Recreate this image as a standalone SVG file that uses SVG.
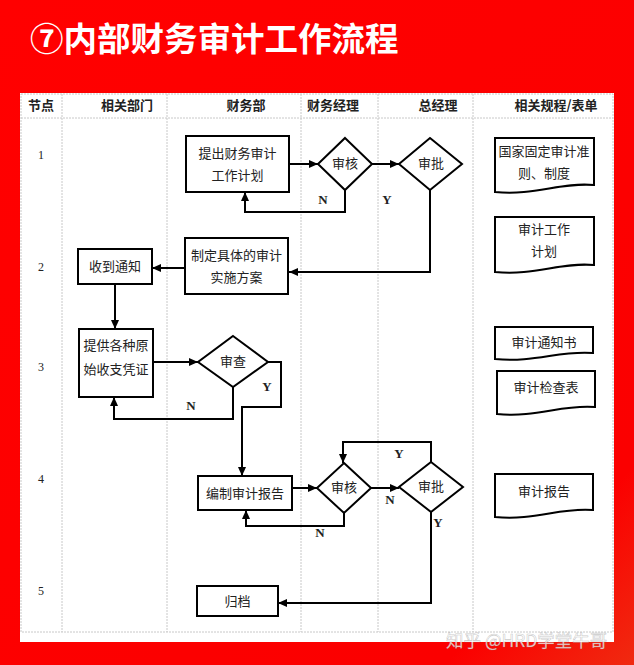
<svg xmlns="http://www.w3.org/2000/svg" width="634" height="665" viewBox="0 0 634 665">
<defs>
<linearGradient id="bg" x1="0" y1="0" x2="1" y2="1">
<stop offset="0" stop-color="#ff0000"/>
<stop offset="0.85" stop-color="#fb0000"/>
<stop offset="1" stop-color="#f02a10"/>
</linearGradient>
<marker id="ah" markerUnits="userSpaceOnUse" markerWidth="10" markerHeight="8" refX="9" refY="4" orient="auto">
<path d="M0,0 L9,4 L0,8 Z" fill="#000"/>
</marker>
<style>
.grid{stroke:#c8c8c8;stroke-width:1;stroke-dasharray:2 1;fill:none}
.hd{font-family:"Noto Sans CJK SC",sans-serif;font-weight:700;font-size:13px;fill:#222;text-anchor:middle}
.num{font-family:"Liberation Serif",serif;font-size:12px;fill:#222;text-anchor:middle}
.box{fill:#fff;stroke:#000;stroke-width:2}
.t{font-family:"Noto Sans CJK SC",sans-serif;font-size:13px;fill:#222;text-anchor:middle}
.lbl{font-family:"Liberation Serif",serif;font-weight:700;font-size:13px;fill:#222;text-anchor:middle}
.c{fill:none;stroke:#000;stroke-width:2;marker-end:url(#ah)}
</style>
</defs>
<rect width="634" height="665" fill="url(#bg)"/>
<text x="30" y="51" font-family="'Noto Sans CJK SC',sans-serif" font-weight="700" font-size="33.5" fill="#fff">⑦内部财务审计工作流程</text>
<rect x="20" y="93" width="594" height="549" fill="#fff"/>

<g id="grid">
<rect x="21" y="94" width="592" height="538" class="grid"/>
<line x1="21" y1="118" x2="613" y2="118" class="grid"/>
<line x1="62" y1="94" x2="62" y2="632" class="grid"/>
<line x1="167" y1="94" x2="167" y2="632" class="grid"/>
<line x1="301" y1="94" x2="301" y2="632" class="grid"/>
<line x1="378" y1="94" x2="378" y2="632" class="grid"/>
<line x1="473" y1="94" x2="473" y2="632" class="grid"/>
</g>

<g id="headers">
<text x="41" y="110" class="hd">节点</text>
<text x="127" y="110" class="hd">相关部门</text>
<text x="246" y="110" class="hd">财务部</text>
<text x="333" y="110" class="hd">财务经理</text>
<text x="438" y="110" class="hd">总经理</text>
<text x="556" y="110" class="hd">相关规程/表单</text>
</g>

<g id="nodes-num">
<text x="41" y="159" class="num">1</text>
<text x="41" y="271" class="num">2</text>
<text x="41" y="371" class="num">3</text>
<text x="41" y="483" class="num">4</text>
<text x="41" y="595" class="num">5</text>
</g>

<g id="connectors">
<path d="M289,164 H318" class="c"/>
<path d="M372,164 H399" class="c"/>
<path d="M345,190 V212 H245 V192" class="c"/>
<path d="M430,190 V272 H289" class="c"/>
<path d="M185,268 H152" class="c"/>
<path d="M115,284 V329" class="c"/>
<path d="M153,362 H198" class="c"/>
<path d="M233,387 V419 H114 V397" class="c"/>
<path d="M268,362 H281 V407 H242 V476" class="c"/>
<path d="M292,488 H317" class="c"/>
<path d="M371,488 H399" class="c"/>
<path d="M431,463 V442 H343 V463" class="c"/>
<path d="M344,513 V526 H246 V510" class="c"/>
<path d="M431,512 V603 H278" class="c"/>
</g>

<g id="n-plan">
<rect x="186" y="136" width="103" height="56" class="box"/>
<text x="237.5" y="158" class="t">提出财务审计</text>
<text x="237.5" y="180" class="t">工作计划</text>
</g>
<g id="d-review1">
<polygon points="345,138 372,164 345,190 318,164" class="box"/>
<text x="345" y="168" class="t">审核</text>
</g>
<g id="d-approve1">
<polygon points="430,138 462,164 430,190 399,164" class="box"/>
<text x="431" y="168" class="t">审批</text>
</g>
<g id="n-scheme">
<rect x="185" y="238" width="103" height="56" class="box"/>
<text x="236.5" y="260" class="t">制定具体的审计</text>
<text x="236.5" y="282" class="t">实施方案</text>
</g>
<g id="n-notice">
<rect x="78" y="249" width="74" height="35" class="box"/>
<text x="115" y="271" class="t">收到通知</text>
</g>
<g id="n-vouchers">
<rect x="79" y="329" width="74" height="68" class="box"/>
<text x="116" y="350" class="t">提供各种原</text>
<text x="116" y="374" class="t">始收支凭证</text>
</g>
<g id="d-check">
<polygon points="233,336 268,362 233,387 198,362" class="box"/>
<text x="233" y="366" class="t">审查</text>
</g>
<g id="n-report">
<rect x="198" y="476" width="94" height="34" class="box"/>
<text x="245" y="498" class="t">编制审计报告</text>
</g>
<g id="d-review2">
<polygon points="344,463 371,488 344,513 317,488" class="box"/>
<text x="344" y="492" class="t">审核</text>
</g>
<g id="d-approve2">
<polygon points="431,462 463,487 431,512 399,487" class="box"/>
<text x="431" y="491" class="t">审批</text>
</g>
<g id="n-archive">
<rect x="197" y="586" width="81" height="30" class="box"/>
<text x="237.5" y="606" class="t">归档</text>
</g>

<g id="labels">
<text x="323" y="204" class="lbl">N</text>
<text x="387" y="204" class="lbl">Y</text>
<text x="191" y="410" class="lbl">N</text>
<text x="267" y="391" class="lbl">Y</text>
<text x="399" y="458" class="lbl">Y</text>
<text x="390" y="504" class="lbl">N</text>
<text x="320" y="537" class="lbl">N</text>
<text x="438" y="527" class="lbl">Y</text>
</g>

<g id="doc-standards">
<path d="M495,138 H594 V185 C560,182 535,196 495,192 Z" class="box"/>
<text x="544" y="156" class="t">国家固定审计准</text>
<text x="544" y="178" class="t">则、制度</text>
</g>
<g id="doc-plan">
<path d="M495,217 H594 V265 C560,262 535,276 495,272 Z" class="box"/>
<text x="544" y="234" class="t">审计工作</text>
<text x="544" y="256" class="t">计划</text>
</g>
<g id="doc-notice">
<path d="M495,327 H593 V353 C560,350 535,363 495,359 Z" class="box"/>
<text x="544" y="347" class="t">审计通知书</text>
</g>
<g id="doc-checklist">
<path d="M497,371 H595 V407 C562,404 537,418 497,414 Z" class="box"/>
<text x="546" y="392" class="t">审计检查表</text>
</g>
<g id="doc-report">
<path d="M495,474 H593 V510 C560,507 535,521 495,517 Z" class="box"/>
<text x="544" y="496" class="t">审计报告</text>
</g>

<text x="446" y="647" font-family="'Noto Sans CJK SC',sans-serif" font-size="17.5" fill="#ffffff" fill-opacity="0.8" stroke="#888" stroke-opacity="0.45" stroke-width="0.6">知乎 @HRD学堂牛哥</text>
</svg>
